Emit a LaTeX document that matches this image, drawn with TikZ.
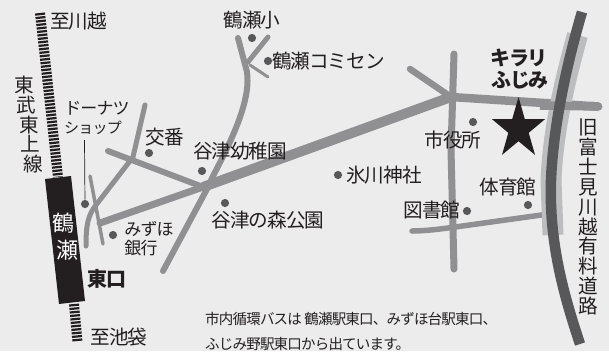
\documentclass[tikz,border=0pt]{standalone}
\usepackage{fontspec}
\setmainfont[LetterSpace=-5.5]{Noto Sans CJK JP}
\definecolor{bgc}{HTML}{ECECEC}
\definecolor{roadc}{HTML}{909092}
\definecolor{darkc}{HTML}{58585A}
\definecolor{bandc}{HTML}{BCBDBF}
\definecolor{dotc}{HTML}{58585A}
\definecolor{inkc}{HTML}{231F20}
\tikzset{
 road/.style={draw=roadc,line cap=round,line join=round},
 rail/.style={draw=inkc,line width=10pt,dash pattern=on 2.2pt off 1.3pt},
 poi/.style={circle,fill=dotc,inner sep=0pt,minimum size=8.2pt},
 lab/.style={inner sep=0pt,text=inkc,font=\fontsize{19.6}{19.6}\selectfont},
 labs/.style={lab,font=\fontsize{17}{17}\selectfont},
 labb/.style={lab,font=\fontsize{20}{20}\selectfont\bfseries},
 note/.style={inner sep=0pt,anchor=west,text=inkc,font=\fontsize{14.5}{14.5}\selectfont}
}
\begin{document}
\begin{tikzpicture}[x=1pt,y=-1pt]
\path[use as bounding box,fill=bgc] (0,0) rectangle (609,351);
% railway
\coordinate (railN) at (40,13);
\coordinate (stN) at (58,177);
\coordinate (stS) at (74,304);
\coordinate (railS) at (77.5,342);
\draw[rail] (railN) -- (stN);
\draw[rail] (stS) -- (railS);
\fill[inkc] (45,179) -- (71,176) -- (85,301) -- (59,304) -- cycle;
% roads
\coordinate (cross) at (203,187);
\coordinate (city) at (451,97);
\draw[road,line width=7pt] (100,223) -- (cross);
\draw[road,line width=10pt,line cap=butt] (cross) -- (city);
\draw[road,line width=8.5pt] (city) -- (598,106.5);
\draw[road,line width=6.5pt] (410,69) -- (city);
\draw[road,line width=7pt] (454,54) -- (451,150) -- (454,269);
\draw[road,line width=5.5pt] (412,231) .. controls (425,231) and (440,229) .. (448,228) -- (545,214.5);
\draw[road,line width=6pt] (108,151) -- (cross);
\draw[road,line width=6pt] (238,38) -- (247,72) .. controls (250,95) and (240,125) .. (213,176) -- (207,189) -- (163,271);
\draw[road,line width=5pt] (268,37) -- (248,62);
\draw[road,line width=3pt] (268,77) -- (250,65);
\draw[road,line width=5pt] (145,105) -- (133,157) -- (96,205) .. controls (88,215) and (86,225) .. (86,246);
\draw[road,line width=3.5pt] (90,176) -- (103,244);
% highway
\draw[bandc,line width=21pt] (577.5,35) .. controls (565,80) and (553,130) .. (551,180) -- (553,235);
\draw[road,line width=8.5pt,line cap=butt] (540,105.5) -- (598,106.5);
\draw[road,line width=8.5pt] (590,106) -- (598,106.5);
\draw[darkc,line width=10.5pt] (582,12) .. controls (565,70) and (553,130) .. (551,180) .. controls (549,240) and (562,290) .. (580,344);
% pointer and dots
\node[poi] (pDonut) at (85,204) {};
\coordinate (donutTop) at (84.5,140);
\draw[inkc,line width=.7pt] (donutTop) -- (pDonut);
\node[poi] (pSho) at (252,38) {};
\node[poi] (pCom) at (268,61) {};
\node[poi] (pKoban) at (149,153) {};
\node[poi] (pYoch) at (202,171) {};
\node[poi] (pMori) at (225,203) {};
\node[poi] (pBank) at (113,235) {};
\node[poi] (pCity) at (473,122) {};
\node[poi] (pHik) at (338,175) {};
\node[poi] (pLib) at (467,211) {};
\node[poi] (pGym) at (528,205) {};
% star
\fill[inkc] (518.5,97) -- (524.8,119.1) -- (545.1,119.1) -- (528.7,132.8) -- (535,154.9) -- (518.5,141.2) -- (502,154.9) -- (508.3,132.8) -- (491.9,119.1) -- (512.2,119.1) -- cycle;
% labels
\node[lab] (tKawagoe) at (78.5,21) {至川越};
\node[lab] (tSho) at (252,20) {鶴瀬小};
\node[lab] (tCom) at (328.5,61) {鶴瀬コミセン};
\node[lab] (t1) at (24,85) {東};
\node[lab] (t2) at (26,105) {武};
\node[lab] (t3) at (29,125) {東};
\node[lab] (t4) at (30,144) {上};
\node[lab] (t5) at (33,164) {線};
\node[labs] (tDonut) at (97,108) {ドーナツ};
\node[lab,font=\fontsize{15}{15}\selectfont] (tShop) at (93,128) {ショップ};
\node[lab] (tKoban) at (165,137) {交番};
\node[lab] (tYoch) at (240,151) {谷津幼稚園};
\node[lab] (tHik) at (384,175) {氷川神社};
\node[lab] (tCity) at (453,140) {市役所};
\node[labb] (tKira) at (519,58) {キラリ};
\node[labb] (tFuji) at (520,80) {ふじみ};
\node[lab] (tGym) at (508,187) {体育館};
\node[lab] (tLib) at (432,210) {図書館};
\node[lab] (tMori) at (268,220) {谷津の森公園};
\node[labs] (tMizu) at (149,229) {みずほ};
\node[labs] (tGin) at (141,248) {銀行};
\node[labb] (tEast) at (107,279) {東口};
\node[lab] (tIke) at (119,337) {至池袋};
\node[lab,text=white,font=\fontsize{22}{22}\selectfont] (tTsuru) at (63,223) {鶴};
\node[lab,text=white,font=\fontsize{22}{22}\selectfont] (tSe) at (67,250) {瀬};
\node[lab,align=center,font=\fontsize{19.6}{19.9}\selectfont] (tRoad) at (588,217) {旧\\富\\士\\見\\川\\越\\有\\料\\道\\路};
\node[note] (n1) at (205,319) {市内循環バスは 鶴瀬駅東口、みずほ台駅東口、};
\node[note] (n2) at (205,344) {ふじみ野駅東口から出ています。};
\end{tikzpicture}
\end{document}
